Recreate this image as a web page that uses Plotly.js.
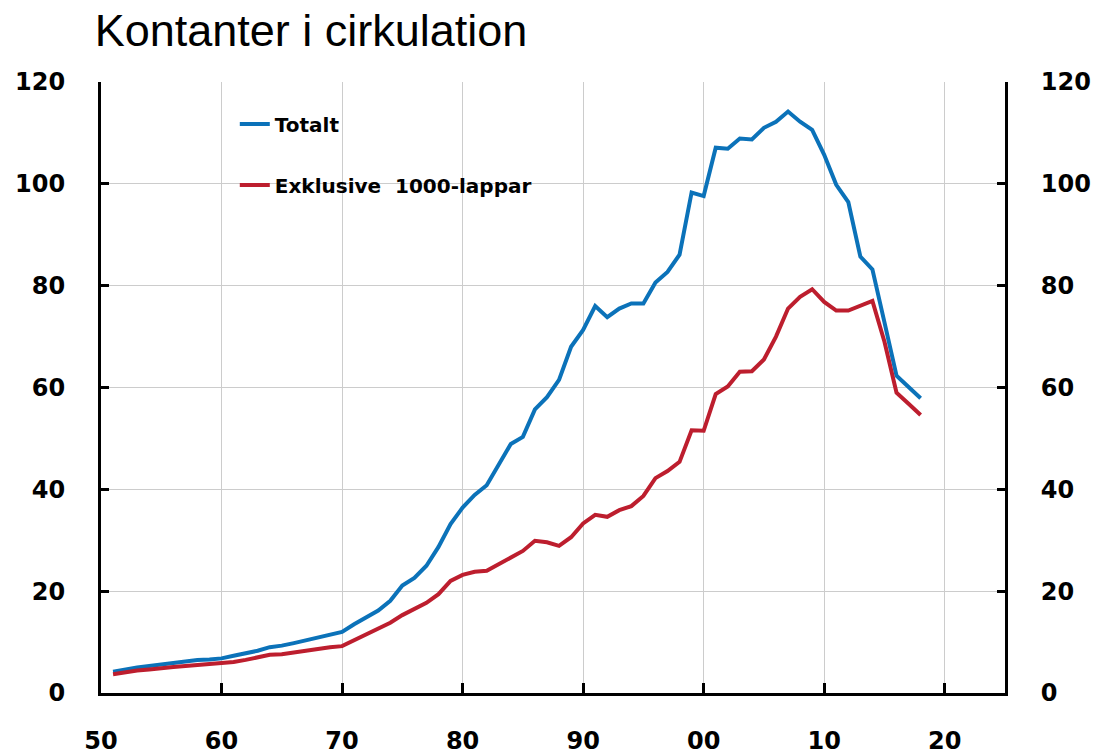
<!DOCTYPE html>
<html>
<head>
<meta charset="utf-8">
<script src="https://cdn.plot.ly/plotly-3.0.1.min.js"></script>
<style>html,body{margin:0;padding:0;background:#fff;}#chart{width:1101px;height:755px;}</style>
</head>
<body>
<div id="chart"></div>
<script>
const years = [];
for (let y = 1951; y <= 2018; y++) years.push(y);

const totalt = [
  4.2, 4.7, 5.0, 5.3, 5.6, 5.9, 6.2, 6.5, 6.6, 6.8,
  7.3, 7.8, 8.3, 9.0, 9.3, 9.8, 10.4, 11.0, 11.6, 12.0,
  13.5, 14.9, 16.2, 18.1, 21.1, 22.6, 25.0, 28.7, 33.2, 36.4,
  38.9, 40.8, 44.8, 48.9, 50.3, 55.7, 58.1, 61.5, 68.0, 71.3,
  76.0, 73.8, 75.5, 76.5, 76.5, 80.6, 82.7, 86.1, 98.3, 97.6,
  107.1, 106.9, 108.9, 108.7, 111.0, 112.2, 114.2, 112.2, 110.6, 105.7,
  99.8, 96.4, 85.7, 83.2, 72.8, 62.3, 60.1, 57.9
];

const exkl1000 = [
  3.7, 4.1, 4.4, 4.6, 4.9, 5.1, 5.3, 5.5, 5.6, 5.8,
  6.1, 6.5, 7.0, 7.5, 7.6, 8.0, 8.4, 8.7, 9.0, 9.2,
  10.4, 11.6, 12.7, 13.8, 15.3, 16.4, 17.7, 19.4, 22.0, 23.2,
  23.8, 24.0, 25.3, 26.8, 27.9, 29.9, 29.6, 28.9, 30.6, 33.3,
  35.0, 34.6, 35.9, 36.7, 38.7, 42.2, 43.6, 45.4, 51.6, 51.5,
  58.7, 60.2, 63.1, 63.2, 65.5, 70.0, 75.5, 77.8, 79.3, 76.8,
  75.1, 75.1, 76.0, 77.0, 69.0, 59.0, 56.8, 54.6
];

const xTickVals = [1950, 1960, 1970, 1980, 1990, 2000, 2010, 2020];
const xTickText = ['50', '60', '70', '80', '90', '00', '10', '20'];
const yTickVals = [0, 20, 40, 60, 80, 100, 120];

const seriesNames = ['Totalt', 'Exklusive\u00a0\u00a01000-lappar'];
const seriesColors = ['#0B72B9', '#BD1E2E'];

const tickFont = {family: 'DejaVu Sans, sans-serif', size: 24, color: '#000', weight: 'bold'};

const traces = [
  {x: years, y: totalt, name: seriesNames[0], type: 'scatter', mode: 'lines',
   line: {color: seriesColors[0], width: 4}, legendgroup: 'a'},
  {x: years, y: exkl1000, name: seriesNames[1], type: 'scatter', mode: 'lines',
   line: {color: seriesColors[1], width: 4}, legendgroup: 'b'},
  {x: [], y: [], yaxis: 'y2', type: 'scatter', mode: 'lines', showlegend: false, hoverinfo: 'skip'}
];

const layout = {
  width: 1101, height: 755,
  margin: {l: 101, r: 96, t: 82, b: 62},
  paper_bgcolor: '#fff', plot_bgcolor: '#fff',
  title: {text: 'Kontanter i cirkulation', x: 0.086, xanchor: 'left', y: 0.981, yanchor: 'top',
          font: {family: 'Liberation Sans, Arial, sans-serif', size: 45, color: '#000'}},
  showlegend: true,
  legend: {x: 0.148, y: 0.963, xanchor: 'left', yanchor: 'top', traceorder: 'grouped',
           tracegroupgap: 32, bgcolor: 'rgba(0,0,0,0)',
           font: {family: 'DejaVu Sans, sans-serif', size: 20, color: '#000', weight: 'bold'}},
  xaxis: {range: [1950, 2025], tickvals: xTickVals, ticktext: xTickText,
          showgrid: true, gridcolor: '#cccccc', gridwidth: 1,
          showline: true, linecolor: '#000', linewidth: 3,
          ticks: 'inside', ticklen: 10, tickwidth: 3, tickcolor: '#000',
          ticklabelstandoff: 24, tickfont: tickFont, zeroline: false, fixedrange: true},
  yaxis: {range: [0, 120], tickvals: yTickVals,
          showgrid: true, gridcolor: '#cccccc', gridwidth: 1,
          showline: true, linecolor: '#000', linewidth: 3,
          ticks: 'inside', ticklen: 8, tickwidth: 3, tickcolor: '#000',
          ticklabelstandoff: 28, tickfont: tickFont, zeroline: false, fixedrange: true},
  yaxis2: {range: [0, 120], tickvals: yTickVals, overlaying: 'y', side: 'right',
           showgrid: false, showline: true, linecolor: '#000', linewidth: 3,
           ticks: 'inside', ticklen: 8, tickwidth: 3, tickcolor: '#000',
           ticklabelstandoff: 28, tickfont: tickFont, zeroline: false, fixedrange: true}
};

Plotly.newPlot('chart', traces, layout, {displayModeBar: false, staticPlot: true});
</script>
</body>
</html>
